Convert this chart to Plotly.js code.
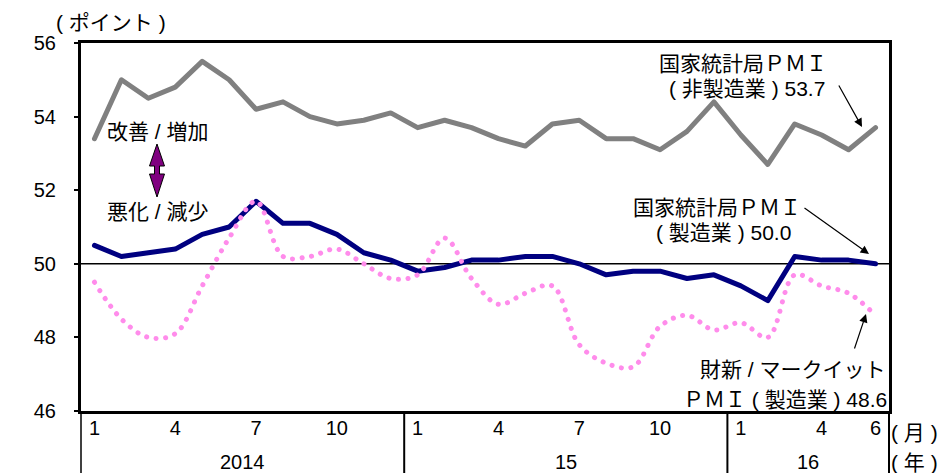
<!DOCTYPE html>
<html>
<head>
<meta charset="utf-8">
<script src="https://cdn.plot.ly/plotly-3.0.1.min.js"></script>
<style>
  html, body { margin: 0; padding: 0; background: #fff; }
  #chart { width: 947px; height: 473px; }
  .scatterlayer .js-line { stroke-linecap: round; stroke-linejoin: round; }
</style>
</head>
<body>
<div id="chart"></div>
<script>
// ---- Data (Jan 2014 – Jun 2016) ----
const months = ["2014-1","2014-2","2014-3","2014-4","2014-5","2014-6","2014-7","2014-8","2014-9","2014-10","2014-11","2014-12",
                "2015-1","2015-2","2015-3","2015-4","2015-5","2015-6","2015-7","2015-8","2015-9","2015-10","2015-11","2015-12",
                "2016-1","2016-2","2016-3","2016-4","2016-5","2016-6"];
const nbsNonMfg = [53.4,55.0,54.5,54.8,55.5,55.0,54.2,54.4,54.0,53.8,53.9,54.1,
                   53.7,53.9,53.7,53.4,53.2,53.8,53.9,53.4,53.4,53.1,53.6,54.4,
                   53.5,52.7,53.8,53.5,53.1,53.7];
const nbsMfg    = [50.5,50.2,50.3,50.4,50.8,51.0,51.7,51.1,51.1,50.8,50.3,50.1,
                   49.8,49.9,50.1,50.1,50.2,50.2,50.0,49.7,49.8,49.8,49.6,49.7,
                   49.4,49.0,50.2,50.1,50.1,50.0];
const caixinMfg = [49.5,48.5,48.0,48.1,49.4,50.7,51.7,50.2,50.2,50.4,50.0,49.6,
                   49.7,50.7,49.6,48.9,49.2,49.4,47.8,47.3,47.2,48.3,48.6,48.2,
                   48.4,48.0,49.7,49.4,49.2,48.6];
const tickPositions = ["2014-1","2014-4","2014-7","2014-10","2015-1","2015-4","2015-7","2015-10","2016-1","2016-4","2016-6"];
const tickLabels    = ["1","4","7","10","1","4","7","10","1","4","6"];
const yearLabels    = ["2014","15","16"];
const yearCenters   = [5.5, 17.5, 26.5];
const yearBreaks    = [11.5, 23.5];

// ---- Layout helpers (pixel -> paper) ----
const W = 947, H = 473, L = 81, R = 58, T = 43, B = 62;
const PW = W - L - R, PH = H - T - B;
const px = x => (x - L) / PW;
const py = y => (H - B - y) / PH;

const JP = "Liberation Sans, Arial, Noto Sans CJK JP";
const txtFont = {family: JP, size: 21, color: "#000"};

const traces = [
  {x: months, y: nbsNonMfg, type: "scatter", mode: "lines", line: {color: "#808080", width: 5}},
  {x: months, y: nbsMfg, type: "scatter", mode: "lines", line: {color: "#000080", width: 5}},
  {x: months, y: caixinMfg, type: "scatter", mode: "lines",
   line: {color: "#FF8CEB", width: 5, dash: "0.1px,9.5px", shape: "spline", smoothing: 1}}
];

// purple double-headed arrow
const ap = [[157,144],[164.5,166],[159.5,166],[159.5,174],[164.5,174],[157,197],[149.5,174],[154.5,174],[154.5,166],[149.5,166]];
const arrowPath = "M" + ap.map(p => px(p[0]).toFixed(5) + "," + py(p[1]).toFixed(5)).join(" L") + " Z";

const shapes = [
  {type: "line", xref: "paper", yref: "y", x0: 0, x1: 1, y0: 50, y1: 50, line: {color: "#000", width: 1.5}, layer: "below"},
  {type: "path", xref: "paper", yref: "paper", path: arrowPath, fillcolor: "#800080", line: {color: "#000", width: 1}},
  {type: "line", xref: "paper", yref: "paper", x0: 0, x1: 0, y0: 0, y1: -B / PH, line: {color: "#000", width: 1.5}},
  {type: "line", xref: "paper", yref: "paper", x0: 1, x1: 1, y0: 0, y1: -B / PH, line: {color: "#000", width: 2}}
];
yearBreaks.forEach(b => shapes.push({type: "line", xref: "x", yref: "paper", x0: b, x1: b, y0: 0, y1: -B / PH, line: {color: "#000", width: 2}}));

const annotations = [
  {text: "( ポイント )", x: px(111), y: py(23)},
  {text: "改善 / 増加", x: px(158), y: py(131)},
  {text: "悪化 / 減少", x: px(158), y: py(211)},
  {text: "国家統計局ＰＭＩ", x: px(743), y: py(63)},
  {text: "( 非製造業 ) 53.7", x: px(747), y: py(88)},
  {text: "国家統計局ＰＭＩ", x: px(717), y: py(207)},
  {text: "( 製造業 ) 50.0", x: px(723), y: py(232)},
  {text: "財新 / マークイット", x: px(888), y: py(369), xanchor: "right"},
  {text: "ＰＭＩ ( 製造業 ) 48.6", x: px(889), y: py(399), xanchor: "right"},
  {text: "( 月 )", x: px(889), y: py(432), xanchor: "left"},
  {text: "( 年 )", x: px(889), y: py(462), xanchor: "left"}
].map(a => Object.assign({xref: "paper", yref: "paper", xanchor: "center", yanchor: "middle", showarrow: false, font: txtFont}, a));

yearLabels.forEach((t, i) => annotations.push({text: t, xref: "x", yref: "paper", x: yearCenters[i], y: py(462),
  xanchor: "center", yanchor: "middle", showarrow: false, font: {family: JP, size: 20, color: "#000"}}));

// pointer arrows
[[838,84,862,127],[803,207,869,254],[854,350,866,314]].forEach(a => annotations.push({
  text: "", xref: "paper", yref: "paper", x: px(a[2]), y: py(a[3]), axref: "pixel", ayref: "pixel",
  ax: a[0] - a[2], ay: a[1] - a[3], showarrow: true, arrowhead: 2, arrowsize: 1.4, arrowwidth: 1.2, arrowcolor: "#000", standoff: 0
}));

const layout = {
  width: W, height: H,
  margin: {l: L, r: R, t: T, b: B, pad: 0},
  paper_bgcolor: "#fff", plot_bgcolor: "#fff",
  showlegend: false,
  font: {family: JP, size: 20, color: "#000"},
  xaxis: {
    type: "category", range: [-0.5, 29.5],
    tickmode: "array", tickvals: tickPositions, ticktext: tickLabels,
    ticks: "", showgrid: false, zeroline: false,
    showline: true, linecolor: "#000", linewidth: 3, mirror: true,
    tickfont: {family: JP, size: 20, color: "#000"}, ticklabelstandoff: -3
  },
  yaxis: {
    range: [46, 56], tickvals: [46,48,50,52,54,56], ticks: "outside", ticklen: 4, tickwidth: 2, tickcolor: "#000",
    showgrid: false, zeroline: false,
    showline: true, linecolor: "#000", linewidth: 3, mirror: true,
    tickfont: {family: JP, size: 20, color: "#000"}, ticklabelstandoff: 14
  },
  shapes: shapes,
  annotations: annotations
};

Plotly.newPlot("chart", traces, layout, {staticPlot: true, displayModeBar: false});
</script>
</body>
</html>
